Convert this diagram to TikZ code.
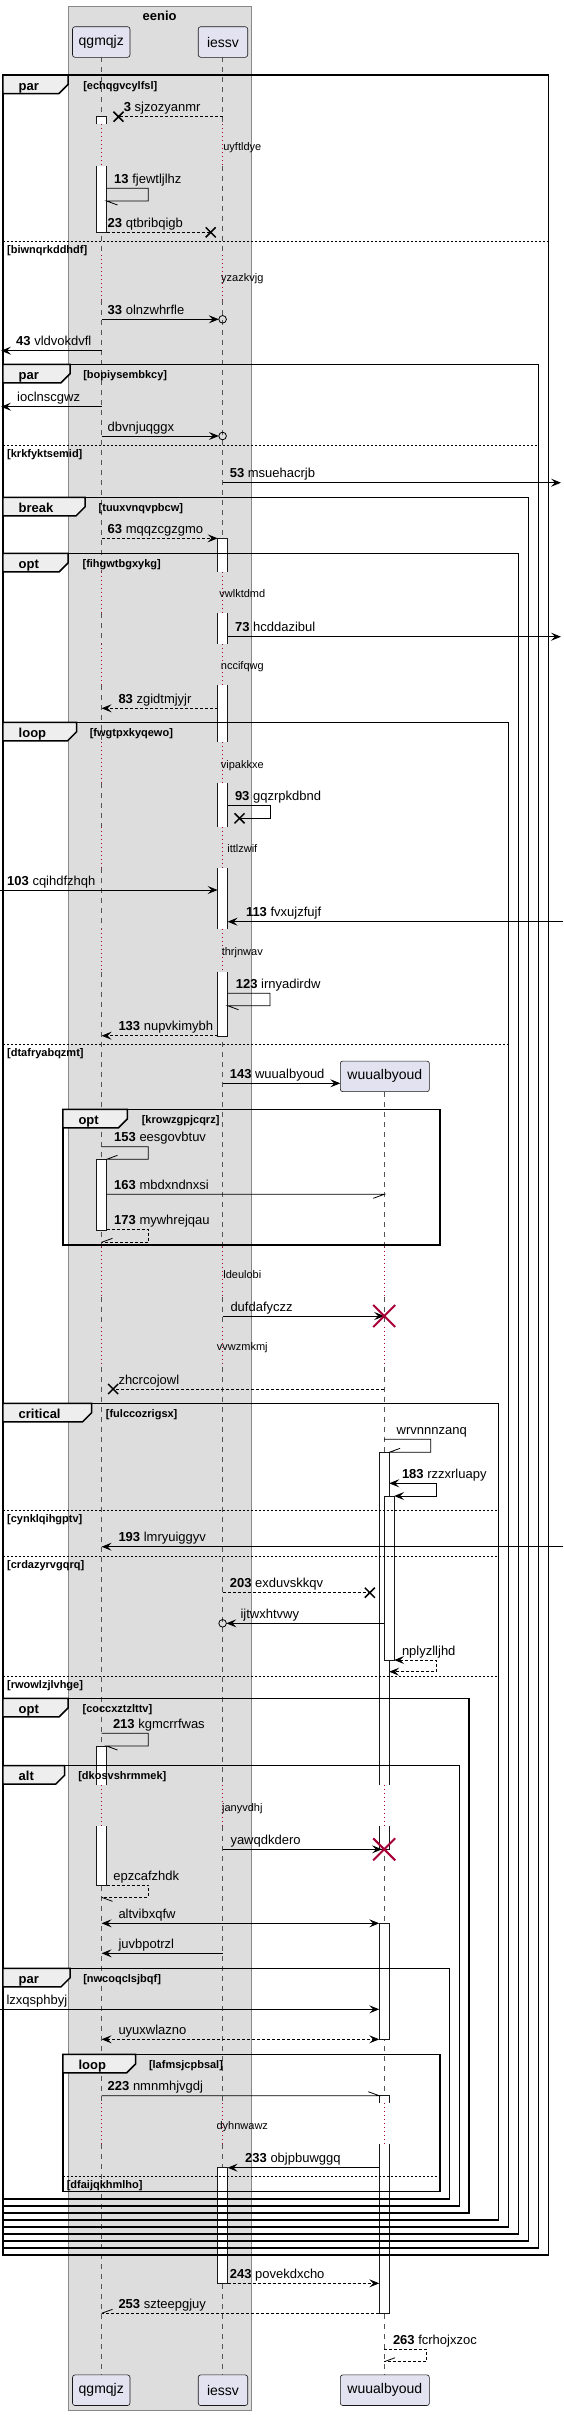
\documentclass[tikz,border=0pt]{standalone}
\usepackage{fontspec}
\setmainfont{Liberation Sans}
\usetikzlibrary{arrows.meta}
\newlength{\du}
\setlength{\du}{1\unitlength}
\definecolor{boxfill}{HTML}{DDDDDD}
\definecolor{boxline}{HTML}{888888}
\definecolor{partfill}{HTML}{E2E2F0}
\definecolor{partline}{HTML}{181818}
\definecolor{lifecolor}{HTML}{555555}
\definecolor{delaycolor}{HTML}{A80036}
\definecolor{tabfill}{HTML}{EEEEEE}
\tikzset{
  partbox/.style={draw=partline, fill=partfill, line width=0.6\du, rounded corners=2.5\du, inner sep=0pt, minimum height=30.6\du, font=\fontsize{14}{16}\selectfont},
  lifeline/.style={draw=lifecolor, line width=0.7\du, dash pattern=on 5\du off 5\du},
  delayline/.style={draw=delaycolor, line width=0.9\du, dash pattern=on 1\du off 3\du},
  actbar/.style={fill=white},
  actedge/.style={draw=partline, line width=0.7\du},
  frameline/.style={draw=black, line width=1.5\du},
  tabshape/.style={draw=black, fill=tabfill, line width=1.5\du},
  sepline/.style={draw=black, line width=0.8\du, dash pattern=on 2\du off 2\du},
  msgline/.style={draw=black, line width=0.8\du},
  retline/.style={draw=black, line width=0.8\du, dash pattern=on 3\du off 2\du},
  headtip/.style={-{Stealth[length=10pt,width=8pt,inset=4pt]}},
  bothtip/.style={{Stealth[length=10pt,width=8pt,inset=4pt]}-{Stealth[length=10pt,width=8pt,inset=4pt]}},
  lostmark/.style={draw=black, line width=1.5\du},
  killmark/.style={draw=delaycolor, line width=2\du},
  msgtext/.style={anchor=base west, inner sep=0pt, outer sep=0pt, font=\fontsize{13}{15}\selectfont},
  guardtext/.style={anchor=base west, inner sep=0pt, outer sep=0pt, font=\bfseries\fontsize{11}{13}\selectfont},
  tabtext/.style={anchor=base west, inner sep=0pt, outer sep=0pt, font=\bfseries\fontsize{13}{15}\selectfont},
  delaytext/.style={anchor=base, inner sep=0pt, outer sep=0pt, font=\fontsize{11}{13}\selectfont}
}
\begin{document}
\begin{tikzpicture}
\pgftransformyscale{-1.000000}
\useasboundingbox (0\du,0\du) rectangle (563\du,2415\du);
% box eenio
\filldraw[fill=boxfill, draw=boxline, line width=0.8\du] (68.2\du,6\du) rectangle (251.3\du,2410\du);
\node[anchor=base, inner sep=0pt, outer sep=0pt, font=\bfseries\fontsize{13}{15}\selectfont] (eenio) at (159.7\du,20\du){eenio};
% lifelines
\draw[lifeline] (101.6\du,57.3\du)--(101.6\du,124.3\du) (101.6\du,165.7\du)--(101.6\du,255\du) (101.6\du,300\du)--(101.6\du,571.7\du) (101.6\du,613.3\du)--(101.6\du,644\du) (101.6\du,685\du)--(101.6\du,741.7\du) (101.6\du,783.3\du)--(101.6\du,826.7\du) (101.6\du,868.3\du)--(101.6\du,929.3\du) (101.6\du,971.7\du)--(101.6\du,1246.7\du) (101.6\du,1296.7\du)--(101.6\du,1326.7\du) (101.6\du,1366.7\du)--(101.6\du,1785\du) (101.6\du,1826\du)--(101.6\du,2103.3\du) (101.6\du,2144\du)--(101.6\du,2374.3\du);
\draw[lifeline] (222.6\du,57.3\du)--(222.6\du,124.3\du) (222.6\du,165.7\du)--(222.6\du,255\du) (222.6\du,300\du)--(222.6\du,571.7\du) (222.6\du,613.3\du)--(222.6\du,644\du) (222.6\du,685\du)--(222.6\du,741.7\du) (222.6\du,783.3\du)--(222.6\du,826.7\du) (222.6\du,868.3\du)--(222.6\du,929.3\du) (222.6\du,971.7\du)--(222.6\du,1246.7\du) (222.6\du,1296.7\du)--(222.6\du,1326.7\du) (222.6\du,1366.7\du)--(222.6\du,1785\du) (222.6\du,1826\du)--(222.6\du,2103.3\du) (222.6\du,2144\du)--(222.6\du,2374.3\du);
\draw[lifeline] (384.2\du,1092\du)--(384.2\du,1246.7\du) (384.2\du,1296.7\du)--(384.2\du,1326.7\du) (384.2\du,1366.7\du)--(384.2\du,1785\du) (384.2\du,1826\du)--(384.2\du,2103.3\du) (384.2\du,2144\du)--(384.2\du,2374.3\du);
% delays
\draw[delayline] (101.6\du,124.3\du)--(101.6\du,165.7\du) (101.6\du,255\du)--(101.6\du,300\du) (101.6\du,571.7\du)--(101.6\du,613.3\du) (101.6\du,644\du)--(101.6\du,685\du) (101.6\du,741.7\du)--(101.6\du,783.3\du) (101.6\du,826.7\du)--(101.6\du,868.3\du) (101.6\du,929.3\du)--(101.6\du,971.7\du) (101.6\du,1246.7\du)--(101.6\du,1296.7\du) (101.6\du,1326.7\du)--(101.6\du,1366.7\du) (101.6\du,1785\du)--(101.6\du,1826\du) (101.6\du,2103.3\du)--(101.6\du,2144\du);
\draw[delayline] (222.6\du,124.3\du)--(222.6\du,165.7\du) (222.6\du,255\du)--(222.6\du,300\du) (222.6\du,571.7\du)--(222.6\du,613.3\du) (222.6\du,644\du)--(222.6\du,685\du) (222.6\du,741.7\du)--(222.6\du,783.3\du) (222.6\du,826.7\du)--(222.6\du,868.3\du) (222.6\du,929.3\du)--(222.6\du,971.7\du) (222.6\du,1246.7\du)--(222.6\du,1296.7\du) (222.6\du,1326.7\du)--(222.6\du,1366.7\du) (222.6\du,1785\du)--(222.6\du,1826\du) (222.6\du,2103.3\du)--(222.6\du,2144\du);
\draw[delayline] (384.2\du,1246.7\du)--(384.2\du,1296.7\du) (384.2\du,1326.7\du)--(384.2\du,1366.7\du) (384.2\du,1785\du)--(384.2\du,1826\du) (384.2\du,2103.3\du)--(384.2\du,2144\du);
\node[delaytext] (d1) at (242.3\du,150.5\du){uyftldye};
\node[delaytext] (d2) at (242.3\du,281\du){yzazkvjg};
\node[delaytext] (d3) at (242.3\du,597\du){vwlktdmd};
\node[delaytext] (d4) at (242.3\du,669.5\du){nccifqwg};
\node[delaytext] (d5) at (242.3\du,768\du){vipakkxe};
\node[delaytext] (d6) at (242.3\du,852\du){ittlzwif};
\node[delaytext] (d7) at (242.3\du,955.5\du){thrjnwav};
\node[delaytext] (d8) at (242.3\du,1278\du){ldeulobi};
\node[delaytext] (d9) at (242.3\du,1350.5\du){vvwzmkmj};
\node[delaytext] (d10) at (242.3\du,1811\du){janyvdhj};
\node[delaytext] (d11) at (242.3\du,2129.5\du){dyhnwawz};
% participants
\node[partbox, minimum width=57.5\du] (qgmqjzTop) at (101.25\du,42\du){qgmqjz};
\node[partbox, minimum width=49.5\du] (iessvTop) at (222.95\du,42\du){iessv};
\node[partbox, minimum width=89.1\du] (wuualbyoudNew) at (384.85\du,1076.35\du){wuualbyoud};
\node[partbox, minimum width=57.5\du] (qgmqjzBot) at (101.25\du,2390.2\du){qgmqjz};
\node[partbox, minimum width=49.5\du] (iessvBot) at (222.95\du,2390.2\du){iessv};
\node[partbox, minimum width=89.1\du] (wuualbyoudBot) at (384.85\du,2390.2\du){wuualbyoud};
% activations qgmqjz
\fill[actbar] (96.6\du,116.7\du) rectangle (106.6\du,124.3\du);
\draw[actedge] (96.6\du,124.3\du)--(96.6\du,116.7\du)--(106.6\du,116.7\du)--(106.6\du,124.3\du);
\fill[actbar] (96.6\du,165.7\du) rectangle (106.6\du,232.3\du);
\draw[actedge] (96.6\du,165.7\du)--(96.6\du,232.3\du)--(106.6\du,232.3\du)--(106.6\du,165.7\du);
\filldraw[actbar, actedge] (96.6\du,1159.3\du) rectangle (106.6\du,1230\du);
\fill[actbar] (96.6\du,1746\du) rectangle (106.6\du,1785\du);
\draw[actedge] (96.6\du,1785\du)--(96.6\du,1746\du)--(106.6\du,1746\du)--(106.6\du,1785\du);
\fill[actbar] (96.6\du,1826\du) rectangle (106.6\du,1885\du);
\draw[actedge] (96.6\du,1826\du)--(96.6\du,1885\du)--(106.6\du,1885\du)--(106.6\du,1826\du);
% activations iessv
\fill[actbar] (217.6\du,538.3\du) rectangle (227.6\du,571.7\du);
\draw[actedge] (217.6\du,571.7\du)--(217.6\du,538.3\du)--(227.6\du,538.3\du)--(227.6\du,571.7\du);
\fill[actbar] (217.6\du,613.3\du) rectangle (227.6\du,644\du);
\draw[actedge] (217.6\du,613.3\du)--(217.6\du,644\du) (227.6\du,613.3\du)--(227.6\du,644\du);
\fill[actbar] (217.6\du,685\du) rectangle (227.6\du,741.7\du);
\draw[actedge] (217.6\du,685\du)--(217.6\du,741.7\du) (227.6\du,685\du)--(227.6\du,741.7\du);
\fill[actbar] (217.6\du,783.3\du) rectangle (227.6\du,826.7\du);
\draw[actedge] (217.6\du,783.3\du)--(217.6\du,826.7\du) (227.6\du,783.3\du)--(227.6\du,826.7\du);
\fill[actbar] (217.6\du,868.3\du) rectangle (227.6\du,929.3\du);
\draw[actedge] (217.6\du,868.3\du)--(217.6\du,929.3\du) (227.6\du,868.3\du)--(227.6\du,929.3\du);
\fill[actbar] (217.6\du,971.7\du) rectangle (227.6\du,1036\du);
\draw[actedge] (217.6\du,971.7\du)--(217.6\du,1036\du)--(227.6\du,1036\du)--(227.6\du,971.7\du);
\filldraw[actbar, actedge] (217.6\du,2167.7\du) rectangle (227.6\du,2283.3\du);
% activations wuualbyoud
\fill[actbar] (379.2\du,1452.3\du) rectangle (389.2\du,1785\du);
\draw[actedge] (379.2\du,1785\du)--(379.2\du,1452.3\du)--(389.2\du,1452.3\du)--(389.2\du,1785\du);
\fill[actbar] (379.2\du,1826\du) rectangle (389.2\du,1849.3\du);
\draw[actedge] (379.2\du,1826\du)--(379.2\du,1849.3\du)--(389.2\du,1849.3\du)--(389.2\du,1826\du);
\filldraw[actbar, actedge] (384.2\du,1496\du) rectangle (394.2\du,1660.7\du);
\filldraw[actbar, actedge] (379.2\du,1923.3\du) rectangle (389.2\du,2039.3\du);
\fill[actbar] (379.2\du,2095.7\du) rectangle (389.2\du,2103.3\du);
\draw[actedge] (379.2\du,2103.3\du)--(379.2\du,2095.7\du)--(389.2\du,2095.7\du)--(389.2\du,2103.3\du);
\fill[actbar] (379.2\du,2144\du) rectangle (389.2\du,2313.3\du);
\draw[actedge] (379.2\du,2144\du)--(379.2\du,2313.3\du)--(389.2\du,2313.3\du)--(389.2\du,2144\du);
% frame par echqgvcylfsl
\draw[frameline] (2.9\du,75\du) rectangle (548.6\du,2255\du);
\filldraw[tabshape] (2.9\du,75\du)--(68\du,75\du)--(68\du,84.5\du)--(59\du,93.5\du)--(2.9\du,93.5\du)--cycle;
\node[tabtext] (parA) at (18.7\du,90\du){par};
\node[guardtext] (gA) at (83.3\du,89\du){[echqgvcylfsl]};
\draw[sepline] (2.9\du,241.7\du)--(548.6\du,241.7\du);
\node[guardtext] (gA2) at (7.2\du,253.7\du){[biwnqrkddhdf]};
% frame par bopiysembkcy
\draw[frameline] (2.9\du,364.3\du) rectangle (538.5\du,2248\du);
\filldraw[tabshape] (2.9\du,364.3\du)--(70\du,364.3\du)--(70\du,373.8\du)--(61\du,382.8\du)--(2.9\du,382.8\du)--cycle;
\node[tabtext] (parB) at (18.7\du,379.3\du){par};
\node[guardtext] (gB) at (83.3\du,378.3\du){[bopiysembkcy]};
\draw[sepline] (2.9\du,445\du)--(538.5\du,445\du);
\node[guardtext] (gB2) at (7.2\du,457\du){[krkfyktsemid]};
% frame break
\draw[frameline] (2.9\du,497.3\du) rectangle (528.4\du,2241\du);
\filldraw[tabshape] (2.9\du,497.3\du)--(85.1\du,497.3\du)--(85.1\du,506.8\du)--(76.1\du,515.8\du)--(2.9\du,515.8\du)--cycle;
\node[tabtext] (breakC) at (18.7\du,512.3\du){break};
\node[guardtext] (gC) at (98.7\du,511.3\du){[tuuxvnqvpbcw]};
% frame opt fihgwtbgxykg
\draw[frameline] (2.9\du,553.3\du) rectangle (518.4\du,2234\du);
\filldraw[tabshape] (2.9\du,553.3\du)--(68.2\du,553.3\du)--(68.2\du,562.8\du)--(59.2\du,571.8\du)--(2.9\du,571.8\du)--cycle;
\node[tabtext] (optD) at (18.7\du,568.3\du){opt};
\node[guardtext] (gD) at (82.6\du,567.3\du){[fihgwtbgxykg]};
% frame loop fwgtpxkyqewo
\draw[frameline] (2.9\du,722.3\du) rectangle (508.3\du,2227\du);
\filldraw[tabshape] (2.9\du,722.3\du)--(76.5\du,722.3\du)--(76.5\du,731.8\du)--(67.5\du,740.8\du)--(2.9\du,740.8\du)--cycle;
\node[tabtext] (loopE) at (18.7\du,737.3\du){loop};
\node[guardtext] (gE) at (89.8\du,736.3\du){[fwgtpxkyqewo]};
\draw[sepline] (2.9\du,1044.3\du)--(508.3\du,1044.3\du);
\node[guardtext] (gE2) at (7.2\du,1056.3\du){[dtafryabqzmt]};
% frame opt krowzgpjcqrz
\draw[frameline] (62.8\du,1109.3\du) rectangle (439.8\du,1245\du);
\filldraw[tabshape] (62.8\du,1109.3\du)--(127.4\du,1109.3\du)--(127.4\du,1118.8\du)--(118.4\du,1127.8\du)--(62.8\du,1127.8\du)--cycle;
\node[tabtext] (optF) at (78.5\du,1124.3\du){opt};
\node[guardtext] (gF) at (141.8\du,1123.3\du){[krowzgpjcqrz]};
% frame critical
\draw[frameline] (2.9\du,1403.3\du) rectangle (498.3\du,2220\du);
\filldraw[tabshape] (2.9\du,1403.3\du)--(91.5\du,1403.3\du)--(91.5\du,1412.8\du)--(82.5\du,1421.8\du)--(2.9\du,1421.8\du)--cycle;
\node[tabtext] (criticalG) at (18.7\du,1418.3\du){critical};
\node[guardtext] (gG) at (105.9\du,1417.3\du){[fulccozrigsx]};
\draw[sepline] (2.9\du,1510\du)--(498.3\du,1510\du);
\node[guardtext] (gG2) at (7.2\du,1522\du){[cynklqihgptv]};
\draw[sepline] (2.9\du,1556\du)--(498.3\du,1556\du);
\node[guardtext] (gG3) at (7.2\du,1568\du){[crdazyrvgqrq]};
\draw[sepline] (2.9\du,1676\du)--(498.3\du,1676\du);
\node[guardtext] (gG4) at (7.2\du,1688\du){[rwowlzjlvhge]};
% frame opt coccxztzlttv
\draw[frameline] (2.9\du,1698.3\du) rectangle (468.9\du,2213\du);
\filldraw[tabshape] (2.9\du,1698.3\du)--(68.2\du,1698.3\du)--(68.2\du,1707.8\du)--(59.2\du,1716.8\du)--(2.9\du,1716.8\du)--cycle;
\node[tabtext] (optH) at (18.7\du,1713.3\du){opt};
\node[guardtext] (gH) at (82.6\du,1712.3\du){[coccxztzlttv]};
% frame alt
\draw[frameline] (2.9\du,1765.7\du) rectangle (459.5\du,2206\du);
\filldraw[tabshape] (2.9\du,1765.7\du)--(64.6\du,1765.7\du)--(64.6\du,1775.2\du)--(55.6\du,1784.2\du)--(2.9\du,1784.2\du)--cycle;
\node[tabtext] (altI) at (18.7\du,1780.7\du){alt};
\node[guardtext] (gI) at (78.3\du,1779.7\du){[dkosvshrmmek]};
% frame par nwcoqclsjbqf
\draw[frameline] (2.9\du,1968.3\du) rectangle (449.5\du,2199\du);
\filldraw[tabshape] (2.9\du,1968.3\du)--(70\du,1968.3\du)--(70\du,1977.8\du)--(61\du,1986.8\du)--(2.9\du,1986.8\du)--cycle;
\node[tabtext] (parJ) at (18.7\du,1983.3\du){par};
\node[guardtext] (gJ) at (83.3\du,1982.3\du){[nwcoqclsjbqf]};
% frame loop lafmsjcpbsal
\draw[frameline] (62.8\du,2054.3\du) rectangle (439.8\du,2191.7\du);
\filldraw[tabshape] (62.8\du,2054.3\du)--(135.7\du,2054.3\du)--(135.7\du,2063.8\du)--(126.7\du,2072.8\du)--(62.8\du,2072.8\du)--cycle;
\node[tabtext] (loopK) at (78.5\du,2069.3\du){loop};
\node[guardtext] (gK) at (149\du,2068.3\du){[lafmsjcpbsal]};
\draw[sepline] (62.8\du,2176\du)--(439.8\du,2176\du);
\node[guardtext] (gK2) at (66.8\du,2188\du){[dfaijqkhmlho]};
% messages
\draw[retline] (222.6\du,116.7\du)--(118.5\du,116.7\du);
\draw[lostmark] (113.5\du,111.7\du)--(123.5\du,121.7\du) (113.5\du,121.7\du)--(123.5\du,111.7\du);
\node[msgtext] (m3) at (123.9\du,111.7\du){\textbf{3} sjzozyanmr};
\draw[msgline] (106.6\du,188.3\du)--(148.3\du,188.3\du)--(148.3\du,201\du)--(106.6\du,201\du)--(117.5\du,205\du);
\node[msgtext] (m13) at (114.2\du,183.3\du){\textbf{13} fjewtljlhz};
\draw[retline] (106.6\du,232.3\du)--(210.7\du,232.3\du);
\draw[lostmark] (205.7\du,227.3\du)--(215.7\du,237.3\du) (205.7\du,237.3\du)--(215.7\du,227.3\du);
\node[msgtext] (m23) at (107.7\du,227.3\du){\textbf{23} qtbribqigb};
\draw[msgline, headtip] (101.6\du,319.3\du)--(218.8\du,319.3\du);
\draw[msgline] (222.6\du,319.3\du) circle (3.8pt);
\node[msgtext] (m33) at (107.7\du,314.3\du){\textbf{33} olnzwhrfle};
\draw[msgline, headtip] (101.6\du,350.7\du)--(1\du,350.7\du);
\node[msgtext] (m43) at (16.2\du,345.7\du){\textbf{43} vldvokdvfl};
\draw[msgline, headtip] (101.6\du,406.7\du)--(1\du,406.7\du);
\node[msgtext] (mIocl) at (17.2\du,401.7\du){ioclnscgwz};
\draw[msgline, headtip] (101.6\du,436\du)--(218.8\du,436\du);
\draw[msgline] (222.6\du,436\du) circle (3.8pt);
\node[msgtext] (mDbvn) at (107.7\du,431\du){dbvnjuqggx};
\draw[msgline, headtip] (222.6\du,482.7\du)--(561\du,482.7\du);
\node[msgtext] (m53) at (229.8\du,477.7\du){\textbf{53} msuehacrjb};
\draw[retline, headtip] (101.6\du,538.3\du)--(217.6\du,538.3\du);
\node[msgtext] (m63) at (107.7\du,533.3\du){\textbf{63} mqqzcgzgmo};
\draw[msgline, headtip] (227.6\du,636.7\du)--(561\du,636.7\du);
\node[msgtext] (m73) at (235.1\du,631.7\du){\textbf{73} hcddazibul};
\draw[retline, headtip] (217.6\du,708.3\du)--(101.6\du,708.3\du);
\node[msgtext] (m83) at (118.5\du,703.3\du){\textbf{83} zgidtmjyjr};
\draw[msgline] (227.6\du,805\du)--(270\du,805\du)--(270\du,818.3\du)--(239.5\du,818.3\du);
\draw[lostmark] (234.5\du,813.3\du)--(244.5\du,823.3\du) (234.5\du,823.3\du)--(244.5\du,813.3\du);
\node[msgtext] (m93) at (235\du,800\du){\textbf{93} gqzrpkdbnd};
\draw[msgline, headtip] (0\du,890\du)--(217.6\du,890\du);
\node[msgtext] (m103) at (7.2\du,885\du){\textbf{103} cqihdfzhqh};
\draw[msgline, headtip] (563\du,921.7\du)--(227.6\du,921.7\du);
\node[msgtext] (m113) at (246\du,916.7\du){\textbf{113} fvxujzfujf};
\draw[msgline] (227.6\du,993.3\du)--(270\du,993.3\du)--(270\du,1005.7\du)--(227.6\du,1005.7\du)--(238.5\du,1009.7\du);
\node[msgtext] (m123) at (235.9\du,988.3\du){\textbf{123} irnyadirdw};
\draw[retline, headtip] (217.6\du,1035.7\du)--(101.6\du,1035.7\du);
\node[msgtext] (m133) at (118.5\du,1030.7\du){\textbf{133} nupvkimybh};
\draw[msgline, headtip] (222.6\du,1083.3\du)--(340.3\du,1083.3\du);
\node[msgtext] (m143) at (229.8\du,1078.3\du){\textbf{143} wuualbyoud};
\draw[msgline] (101.6\du,1146.7\du)--(148.3\du,1146.7\du)--(148.3\du,1159.3\du)--(106.6\du,1159.3\du)--(117.5\du,1155.3\du);
\node[msgtext] (m153) at (114.2\du,1141.7\du){\textbf{153} eesgovbtuv};
\draw[msgline] (106.6\du,1194.3\du)--(384.2\du,1194.3\du)--(373.3\du,1198.3\du);
\node[msgtext] (m163) at (114.2\du,1189.3\du){\textbf{163} mbdxndnxsi};
\draw[retline] (106.6\du,1229.3\du)--(148.3\du,1229.3\du)--(148.3\du,1242.3\du)--(101.6\du,1242.3\du);
\draw[msgline] (101.6\du,1242.3\du)--(112.5\du,1238.3\du);
\node[msgtext] (m173) at (114.2\du,1224.3\du){\textbf{173} mywhrejqau};
\draw[msgline, headtip] (222.6\du,1316\du)--(384.2\du,1316\du);
\draw[killmark] (373.2\du,1305\du)--(395.2\du,1327\du) (373.2\du,1327\du)--(395.2\du,1305\du);
\node[msgtext] (mDufd) at (230.5\du,1311\du){dufdafyczz};
\draw[retline] (384.2\du,1389\du)--(113.1\du,1389\du);
\draw[lostmark] (108.1\du,1384\du)--(118.1\du,1394\du) (108.1\du,1394\du)--(118.1\du,1384\du);
\node[msgtext] (mZhcr) at (118.5\du,1384\du){zhcrcojowl};
\draw[msgline] (384.2\du,1439.3\du)--(430.8\du,1439.3\du)--(430.8\du,1452.3\du)--(389.2\du,1452.3\du)--(400.1\du,1448.3\du);
\node[msgtext] (mWrvn) at (396.7\du,1434.3\du){wrvnnnzanq};
\draw[msgline, bothtip] (389.2\du,1483.3\du)--(436.2\du,1483.3\du)--(436.2\du,1496\du)--(394.2\du,1496\du);
\node[msgtext] (m183) at (402\du,1478.3\du){\textbf{183} rzzxrluapy};
\draw[msgline, headtip] (563\du,1546.7\du)--(101.6\du,1546.7\du);
\node[msgtext] (m193) at (118.5\du,1541.7\du){\textbf{193} lmryuiggyv};
\draw[retline] (222.6\du,1592.7\du)--(369.8\du,1592.7\du);
\draw[lostmark] (364.8\du,1587.7\du)--(374.8\du,1597.7\du) (364.8\du,1597.7\du)--(374.8\du,1587.7\du);
\node[msgtext] (m203) at (229.8\du,1587.7\du){\textbf{203} exduvskkqv};
\draw[msgline, headtip] (384.2\du,1623.3\du)--(226.4\du,1623.3\du);
\draw[msgline] (222.6\du,1623.3\du) circle (3.8pt);
\node[msgtext] (mIjtw) at (240.5\du,1618.3\du){ijtwxhtvwy};
\draw[retline, bothtip] (394.2\du,1660\du)--(436.2\du,1660\du)--(436.2\du,1671.7\du)--(389.2\du,1671.7\du);
\node[msgtext] (mNply) at (402\du,1655\du){nplyzlljhd};
\draw[msgline] (101.6\du,1733.3\du)--(148.3\du,1733.3\du)--(148.3\du,1746\du)--(106.6\du,1746\du)--(117.5\du,1750\du);
\node[msgtext] (m213) at (113\du,1728.3\du){\textbf{213} kgmcrrfwas};
\draw[msgline, headtip] (222.6\du,1849.3\du)--(382\du,1849.3\du);
\draw[killmark] (373.2\du,1838.3\du)--(395.2\du,1860.3\du) (373.2\du,1860.3\du)--(395.2\du,1838.3\du);
\node[msgtext] (mYawq) at (230.5\du,1844.3\du){yawqdkdero};
\draw[retline] (106.6\du,1885\du)--(148.3\du,1885\du)--(148.3\du,1897.3\du)--(101.6\du,1897.3\du);
\draw[msgline] (101.6\du,1897.3\du)--(112.5\du,1901.3\du);
\node[msgtext] (mEpzc) at (113.4\du,1880\du){epzcafzhdk};
\draw[msgline, bothtip] (101.6\du,1923.3\du)--(379.2\du,1923.3\du);
\node[msgtext] (mAltv) at (118.5\du,1918.3\du){altvibxqfw};
\draw[msgline, headtip] (222.6\du,1953.3\du)--(101.6\du,1953.3\du);
\node[msgtext] (mJuvb) at (118.5\du,1948.3\du){juvbpotrzl};
\draw[msgline, headtip] (0\du,2009.3\du)--(379.2\du,2009.3\du);
\node[msgtext] (mLzxq) at (6.5\du,2004.3\du){lzxqsphbyj};
\draw[retline, bothtip] (101.6\du,2039.3\du)--(379.2\du,2039.3\du);
\node[msgtext] (mUyux) at (118.5\du,2034.3\du){uyuxwlazno};
\draw[msgline] (101.6\du,2095.7\du)--(379.2\du,2095.7\du)--(368.3\du,2091.7\du);
\node[msgtext] (m223) at (107.7\du,2090.7\du){\textbf{223} nmnmhjvgdj};
\draw[msgline, headtip] (379.2\du,2167.7\du)--(227.6\du,2167.7\du);
\node[msgtext] (m233) at (245.2\du,2162.7\du){\textbf{233} objpbuwggq};
\draw[retline, headtip] (227.6\du,2283.3\du)--(379.2\du,2283.3\du);
\node[msgtext] (m243) at (229.8\du,2278.3\du){\textbf{243} povekdxcho};
\draw[retline] (379.2\du,2313.3\du)--(101.6\du,2313.3\du);
\draw[msgline] (101.6\du,2313.3\du)--(112.5\du,2309.3\du);
\node[msgtext] (m253) at (118.5\du,2308.3\du){\textbf{253} szteepgjuy};
\draw[retline] (384.2\du,2349.3\du)--(426.5\du,2349.3\du)--(426.5\du,2361.7\du)--(384.2\du,2361.7\du);
\draw[msgline] (384.2\du,2361.7\du)--(395.1\du,2357.7\du);
\node[msgtext] (m263) at (393\du,2344.3\du){\textbf{263} fcrhojxzoc};
\end{tikzpicture}
\end{document}
